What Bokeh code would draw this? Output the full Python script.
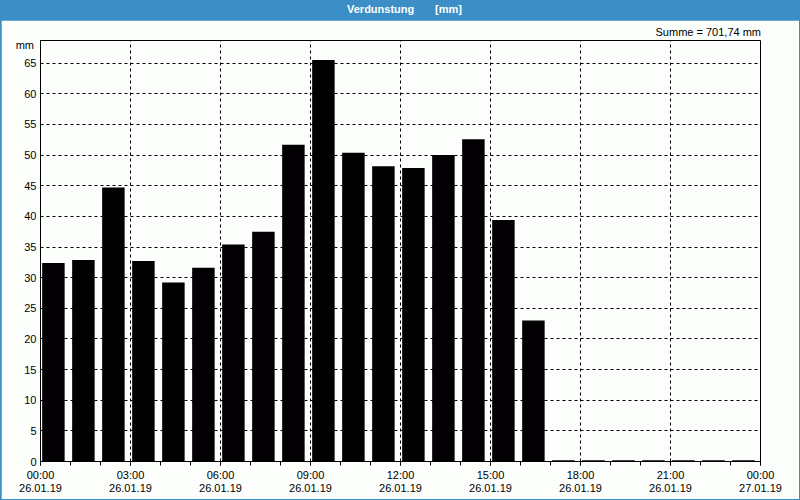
from bokeh.plotting import figure
from bokeh.models import FixedTicker, Range1d, ColumnDataSource, Div
from bokeh.layouts import column
from bokeh.embed import file_html
from bokeh.resources import INLINE

# ---- data ----
hours = list(range(24))
values = [32.4, 32.9, 44.7, 32.7, 29.2, 31.6, 35.4, 37.5, 51.7, 65.5, 50.4, 48.2,
          47.9, 50.0, 52.6, 39.4, 23.0, 0.2, 0.2, 0.2, 0.2, 0.2, 0.2, 0.2]
x_tick_values = [0, 3, 6, 9, 12, 15, 18, 21, 24]
x_tick_labels = ["00:00\n26.01.19", "03:00\n26.01.19", "06:00\n26.01.19",
                 "09:00\n26.01.19", "12:00\n26.01.19", "15:00\n26.01.19",
                 "18:00\n26.01.19", "21:00\n26.01.19", "00:00\n27.01.19"]
y_ticks = [0, 5, 10, 15, 20, 25, 30, 35, 40, 45, 50, 55, 60, 65]
title_text = "Verdunstung"
title_unit = "[mm]"
sum_text = "Summe = 701,74 mm"
y_unit = "mm"

BG = "#FCFEFC"
BLUE = "#3C8FC6"
FONT = "Liberation Sans"
Y_MAX = 68.7

src = ColumnDataSource(dict(x=[h + 0.43 for h in hours], top=values))

p = figure(width=798, height=479, output_backend="svg", toolbar_location=None,
           x_range=Range1d(0, 24), y_range=Range1d(0, Y_MAX),
           min_border_left=39, min_border_right=39, min_border_top=20,
           min_border_bottom=38, title=None)
p.background_fill_color = BG
p.border_fill_color = BG
p.outline_line_color = "black"
p.outline_line_width = 1

p.vbar(x="x", top="top", width=0.75, bottom=0, source=src,
       fill_color="#030003", line_color=None)

# axes
xa = p.xaxis[0]
xa.ticker = FixedTicker(ticks=x_tick_values, minor_ticks=list(range(25)))
xa.major_label_overrides = {t: l for t, l in zip(x_tick_values, x_tick_labels)}
xa.major_tick_out = 4
xa.major_tick_in = 0
xa.minor_tick_out = 4
xa.minor_tick_in = 0
xa.major_label_standoff = 3
xa.major_label_text_font = FONT
xa.major_label_text_font_size = "11px"
xa.major_label_text_color = "black"
xa.major_label_text_line_height = 1.15
xa.axis_line_color = "black"
xa.major_tick_line_color = "black"
xa.minor_tick_line_color = "black"

ya = p.yaxis[0]
ya.ticker = FixedTicker(ticks=y_ticks, minor_ticks=[])
ya.major_tick_out = 0
ya.major_tick_in = 0
ya.minor_tick_out = 0
ya.minor_tick_in = 0
ya.major_label_standoff = 4
ya.major_label_text_font = FONT
ya.major_label_text_font_size = "11px"
ya.major_label_text_color = "black"
ya.axis_line_color = "black"

for g in (p.xgrid[0], p.ygrid[0]):
    g.grid_line_color = "black"
    g.grid_line_dash = "3 3"
    g.grid_line_width = 1
    g.grid_line_alpha = 1.0

span = "position:absolute;white-space:nowrap;line-height:13px;"
header = Div(
    text=(f'<div style="position:relative;width:798px;height:20px;">'
          f'<span style="{span}left:346px;top:3px;">{title_text}</span>'
          f'<span style="{span}left:434px;top:3px;">{title_unit}</span>'
          f'<span style="{span}right:38px;top:26px;color:black;font-weight:normal;">{sum_text}</span>'
          f'<span style="{span}right:765px;top:39px;color:black;font-weight:normal;">{y_unit}</span>'
          f'</div>'),
    width=798, height=20,
    styles={"background-color": BLUE, "color": "white", "font-family": FONT,
            "font-size": "11px", "font-weight": "bold", "margin": "0", "padding": "0",
            "overflow": "visible", "z-index": "5", "position": "relative"})

layout = column(header, p, spacing=0,
                styles={"border-left": f"1px solid {BLUE}",
                        "border-right": f"1px solid {BLUE}",
                        "border-bottom": f"1px solid {BLUE}",
                        "background-color": BLUE})

open("out.html", "w").write(file_html(layout, INLINE))
